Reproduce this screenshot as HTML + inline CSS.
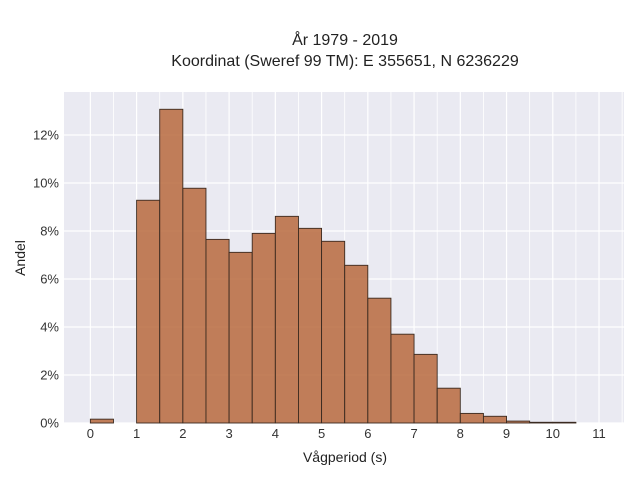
<!DOCTYPE html>
<html><head><meta charset="utf-8"><style>
body{margin:0;background:#fff}
svg{display:block;font-family:"Liberation Sans",sans-serif}
</style></head><body>
<svg id="c" width="640" height="480">
<text x="345" y="45" text-anchor="middle" font-size="16" fill="#222">År 1979 - 2019</text>
<text x="345" y="66" text-anchor="middle" font-size="16" fill="#222">Koordinat (Sweref 99 TM): E 355651, N 6236229</text>
<rect x="64" y="92" width="560" height="331" fill="#eaeaf2"/>
<g id="grid"></g><g id="bars"></g><g id="xt"></g><g id="yt"></g>
<text x="345" y="462" text-anchor="middle" font-size="14" fill="#222">Vågperiod (s)</text>
<text transform="translate(25,258) rotate(-90)" text-anchor="middle" font-size="14" fill="#222">Andel</text>
</svg>
<script>
const binStarts=[0,0.5,1,1.5,2,2.5,3,3.5,4,4.5,5,5.5,6,6.5,7,7.5,8,8.5,9,9.5,10,10.5];
const shares=[0.16,0,9.28,13.07,9.78,7.65,7.11,7.9,8.61,8.11,7.57,6.57,5.2,3.7,2.86,1.45,0.4,0.28,0.08,0.03,0.03,0];
const binWidth=0.5;
const xTicks=[0,1,2,3,4,5,6,7,8,9,10,11];
const yTicks=[0,2,4,6,8,10,12];
const L=64,R=624,T=92,B=423,xmin=-0.57,xmax=11.54,ymax=13.79;
const X=v=>L+(v-xmin)/(xmax-xmin)*(R-L);
const Y=v=>B-v/ymax*(B-T);
const NS="http://www.w3.org/2000/svg";
function mk(t,a,p){const e=document.createElementNS(NS,t);for(const k in a)e.setAttribute(k,a[k]);p.appendChild(e);return e;}
const g=document.getElementById('grid');
for(let v=0;v<=11.5;v+=0.5){const l=mk('line',{x1:X(v),x2:X(v),y1:T,y2:B,stroke:'#fff','stroke-width':v%1?0.8:1.2},g);

}
yTicks.forEach(v=>{const l=mk('line',{x1:L,x2:R,y1:Y(v),y2:Y(v),stroke:'#fff','stroke-width':1.2},g);

});
const bg=document.getElementById('bars');
binStarts.forEach((s,i)=>{if(shares[i]<=0)return;const r=mk('rect',{x:X(s),y:Y(shares[i]),width:X(s+binWidth)-X(s),height:B-Y(shares[i]),fill:'#b86a3e','fill-opacity':0.85,stroke:'#3a2a20','stroke-width':0.9},bg);

});
const xt=document.getElementById('xt');
xTicks.forEach(v=>{const t=mk('text',{x:X(v),y:438,'text-anchor':'middle','font-size':13,fill:'#333'},xt);t.textContent=v;

});
const yt=document.getElementById('yt');
yTicks.forEach(v=>{const t=mk('text',{x:59,y:Y(v)+4.5,'text-anchor':'end','font-size':13,fill:'#333'},yt);t.textContent=v+'%';

});
</script>
</body></html>
